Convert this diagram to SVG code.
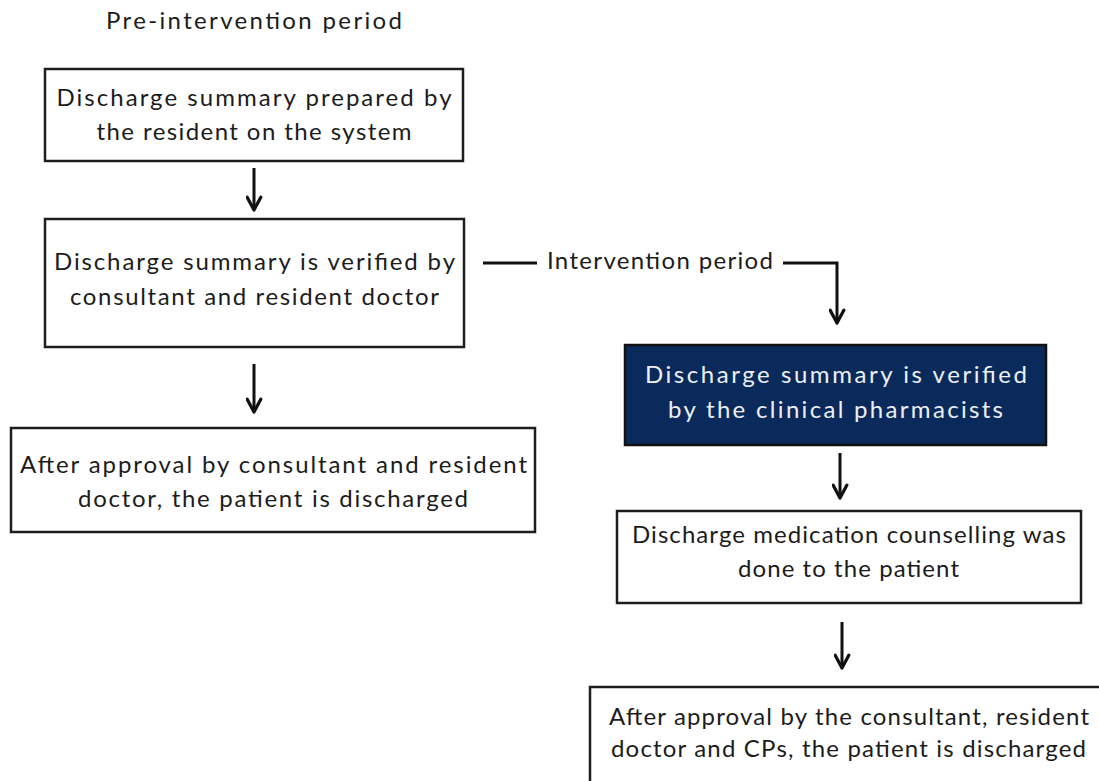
<svg xmlns="http://www.w3.org/2000/svg" width="1099" height="781" viewBox="0 0 1099 781">
  <style>
    .box { fill: #ffffff; stroke: #1e1e1e; stroke-width: 2.5; }
    .dark { fill: #0a2a5c; stroke: #111111; stroke-width: 2.5; }
    .t { font-family: Lato, "Liberation Sans", sans-serif; font-size: 24px; fill: #1c1c1c; text-anchor: middle; }
    .w { fill: #eef0f4; }
    .conn { fill: none; stroke: #111111; stroke-width: 3; }
  </style>
  <defs>
    <marker id="ah" viewBox="0 0 10 10" refX="9" refY="5" markerUnits="userSpaceOnUse" markerWidth="17" markerHeight="17" orient="auto">
      <path d="M1.5,1 L9,5 L1.5,9" fill="none" stroke="#111111" stroke-width="1.9" stroke-linecap="round" stroke-linejoin="round"/>
    </marker>
  </defs>
  <rect width="1099" height="781" fill="#ffffff"/>

  <g id="title">
    <text class="t" x="254" y="29" textLength="296" lengthAdjust="spacing">Pre-intervention period</text>
  </g>

  <g id="n1">
    <rect class="box" x="45" y="69" width="418" height="92"/>
    <text class="t" x="254" y="106" textLength="395" lengthAdjust="spacing">Discharge summary prepared by</text>
    <text class="t" x="254" y="140" textLength="315" lengthAdjust="spacing">the resident on the system</text>
  </g>

  <g id="n2">
    <rect class="box" x="45" y="219" width="419" height="128"/>
    <text class="t" x="254.5" y="270" textLength="401" lengthAdjust="spacing">Discharge summary is verified by</text>
    <text class="t" x="254.5" y="305" textLength="369" lengthAdjust="spacing">consultant and resident doctor</text>
  </g>

  <g id="n3">
    <rect class="box" x="11" y="428" width="524" height="104"/>
    <text class="t" x="273.5" y="473" textLength="507" lengthAdjust="spacing">After approval by consultant and resident</text>
    <text class="t" x="273" y="507" textLength="390" lengthAdjust="spacing">doctor, the patient is discharged</text>
  </g>

  <g id="label-intervention">
    <text class="t" x="660" y="269" textLength="226" lengthAdjust="spacing">Intervention period</text>
  </g>

  <g id="n4">
    <rect class="dark" x="625" y="345" width="421" height="100"/>
    <text class="t w" x="836" y="383" textLength="382" lengthAdjust="spacing">Discharge summary is verified</text>
    <text class="t w" x="835.5" y="418" textLength="335" lengthAdjust="spacing">by the clinical pharmacists</text>
  </g>

  <g id="n5">
    <rect class="box" x="617" y="511" width="464" height="92"/>
    <text class="t" x="849" y="543" textLength="434" lengthAdjust="spacing">Discharge medication counselling was</text>
    <text class="t" x="848.5" y="577" textLength="221" lengthAdjust="spacing">done to the patient</text>
  </g>

  <g id="n6">
    <rect class="box" x="590" y="687" width="530" height="120"/>
    <text class="t" x="849" y="725" textLength="480" lengthAdjust="spacing">After approval by the consultant, resident</text>
    <text class="t" x="848.5" y="757" textLength="475" lengthAdjust="spacing">doctor and CPs, the patient is discharged</text>
  </g>

  <g id="connectors">
    <path class="conn" d="M254,168 V210" marker-end="url(#ah)"/>
    <path class="conn" d="M254,364 V412" marker-end="url(#ah)"/>
    <path class="conn" d="M483,263 H537"/>
    <path class="conn" d="M783,263 H837 V323" marker-end="url(#ah)"/>
    <path class="conn" d="M840,453 V498" marker-end="url(#ah)"/>
    <path class="conn" d="M842,622 V668" marker-end="url(#ah)"/>
  </g>
</svg>
